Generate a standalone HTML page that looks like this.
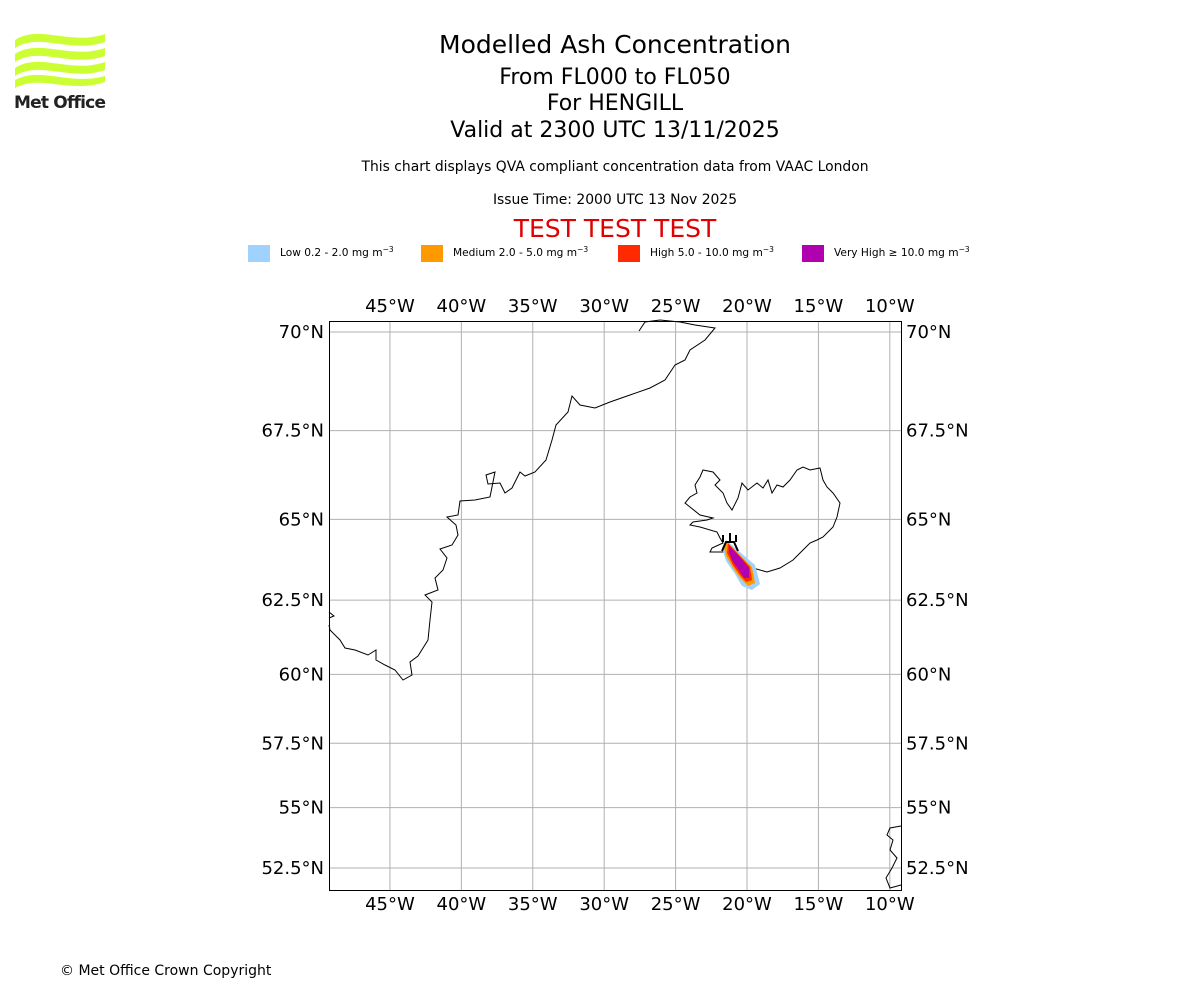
<!DOCTYPE html>
<html><head><meta charset="utf-8"><style>
body{margin:0;background:#fff;width:1200px;height:1000px;overflow:hidden;font-family:"DejaVu Sans","Liberation Sans",sans-serif}
</style></head><body>
<svg id="chart" width="1200" height="1000" xmlns="http://www.w3.org/2000/svg" font-family="DejaVu Sans, Liberation Sans, sans-serif">
<g fill="#ccff33">
<path d="M15,40 C40,24 70,46 105,34 L105,42 C70,54 40,32 15,48 Z"/>
<path d="M15,54 C40,38 70,60 105,48 L105,56 C70,68 40,46 15,62 Z"/>
<path d="M15,68 C40,52 70,74 105,62 L105,70 C70,82 40,60 15,76 Z"/>
<path d="M15,80 C40,66 70,86 105,76 L105,82 C70,94 40,74 15,88 Z"/>
<text x="14" y="108" font-size="17" font-weight="bold" fill="#222" letter-spacing="-0.8">Met Office</text>
</g>
<g text-anchor="middle" fill="#000">
<text x="615" y="53" font-size="25">Modelled Ash Concentration</text>
<text x="615" y="84" font-size="22">From FL000 to FL050</text>
<text x="615" y="110" font-size="22">For HENGILL</text>
<text x="615" y="137" font-size="22">Valid at 2300 UTC 13/11/2025</text>
<text x="615" y="171" font-size="13.9">This chart displays QVA compliant concentration data from VAAC London</text>
<text x="615" y="204" font-size="13.9">Issue Time: 2000 UTC 13 Nov 2025</text>
<text x="615" y="237" font-size="25" fill="#e00000">TEST TEST TEST</text>
</g>
<g id="legend" font-size="10.6"></g>
<g id="grid"></g>
<g id="map">
<polyline fill="none" stroke="#000" stroke-width="1" points="639,331 645,322 660,320 680,322 695,325 715,328 705,340 690,350 685,360 675,365 665,380 650,388 630,395 610,402 595,408 580,405 572,396 568,412 556,425 552,440 546,460 535,472 525,476 520,472 512,488 505,493 500,483 488,484 486,475 495,472 490,497 475,500 460,501 458,515 447,517 456,525 458,535 452,545 440,549 447,558 443,570 435,578 438,590 425,595 432,602 430,620 428,640 418,656 410,662 412,675 403,680 395,670 385,665 376,660 376,650 368,655 355,650 345,648 340,640 330,630 329,625"/>
<polyline fill="none" stroke="#000" points="329,612 334,616 329,618"/>
<polygon fill="none" stroke="#000" stroke-width="1" points="703,470 713,472 720,480 715,485 723,493 727,503 732,510 738,498 742,483 748,490 757,483 763,488 768,480 772,493 777,485 783,487 790,480 797,470 803,467 810,470 820,468 823,480 827,487 833,493 840,503 837,517 833,527 823,537 817,540 810,543 803,550 793,560 780,568 767,572 753,568 743,563 733,555 727,552 710,552 712,548 723,543 720,538 717,532 700,527 690,525 693,522 707,520 713,518 700,515 690,507 685,503 690,497 697,493 695,485 700,477"/>
<polyline fill="none" stroke="#000" points="901,826 890,828 887,835 893,840 890,850 897,858 892,868 886,878 890,888 901,885"/>
<g>
<polygon fill="#a0d2ff" points="726,540 741,553 755,565 760,584 752,590 742,586 735,574 726,561 722,548"/>
<polygon fill="#ff9900" points="727,542 740,555 752,567 755,583 748,586 740,578 733,568 726,556 724,548"/>
<polygon fill="#ff2a00" points="728,543 739,555 750,567 752,580 746,582 740,575 733,565 727,553"/>
<polygon fill="#b000b0" points="729,546 739,556 749,568 749,578 744,578 739,570 733,562 729,552"/>
</g>
<g stroke="#000" stroke-width="2" fill="none">
<path d="M722,551 L726,542 L734,542 L738,551 M723,542 L723,535 M730,542 L730,533 M736,542 L736,535"/>
</g>
</g>
<rect x="329.5" y="321.5" width="572" height="569" fill="none" stroke="#000"/>
<g id="ticks" font-size="18" fill="#000"></g>
<text x="60" y="975" font-size="14">© Met Office Crown Copyright</text>
</svg>
<script>
const lonTicks=[-45,-40,-35,-30,-25,-20,-15,-10];
const latTicks=[70,67.5,65,62.5,60,57.5,55,52.5];
const legendLabels=["Low 0.2 - 2.0 mg m","Medium 2.0 - 5.0 mg m","High 5.0 - 10.0 mg m","Very High \u2265 10.0 mg m"];
const legendColors=["#a0d2ff","#ff9900","#ff2a00","#b000b0"];
const legendX=[248,421,618,802];
const NS="http://www.w3.org/2000/svg";
const k=818.3, x0=747, lon0=-20;
function merc(lat){return Math.log(Math.tan(Math.PI/4+lat*Math.PI/360));}
function px(lon){return x0+(lon-lon0)*Math.PI/180*k;}
function py(lat){return 332+(merc(70)-merc(lat))*k;}
function mk(t,a,p){const e=document.createElementNS(NS,t);for(const n in a)e.setAttribute(n,a[n]);p.appendChild(e);return e;}
const grid=document.getElementById('grid'),ticks=document.getElementById('ticks'),leg=document.getElementById('legend');
lonTicks.forEach(l=>{const x=px(l);
 const g=mk('line',{x1:x,x2:x,y1:321,y2:890,stroke:'#b0b0b0','stroke-width':1},grid);
 
 
 [312,910].forEach(y=>{const t=mk('text',{x:x,y:y,'text-anchor':'middle'},ticks);t.textContent=Math.abs(l)+'°W';
 
 });
});
latTicks.forEach(l=>{const y=py(l);
 const g=mk('line',{x1:329,x2:901,y1:y,y2:y,stroke:'#b0b0b0','stroke-width':1},grid);
 
 
 const a=mk('text',{x:324,y:y+6,'text-anchor':'end'},ticks);a.textContent=l+'°N';
 
 
 const b=mk('text',{x:906,y:y+6},ticks);b.textContent=l+'°N';
 
 
});
legendLabels.forEach((s,i)=>{
 const r=mk('rect',{x:legendX[i],y:245,width:22,height:17,fill:legendColors[i]},leg);
 
 
 const t=mk('text',{x:legendX[i]+32,y:256},leg);t.textContent=s;
 
 
 const sp=mk('tspan',{dy:-4,'font-size':7.5},t);sp.textContent='\u22123';
});
</script>
</body></html>
